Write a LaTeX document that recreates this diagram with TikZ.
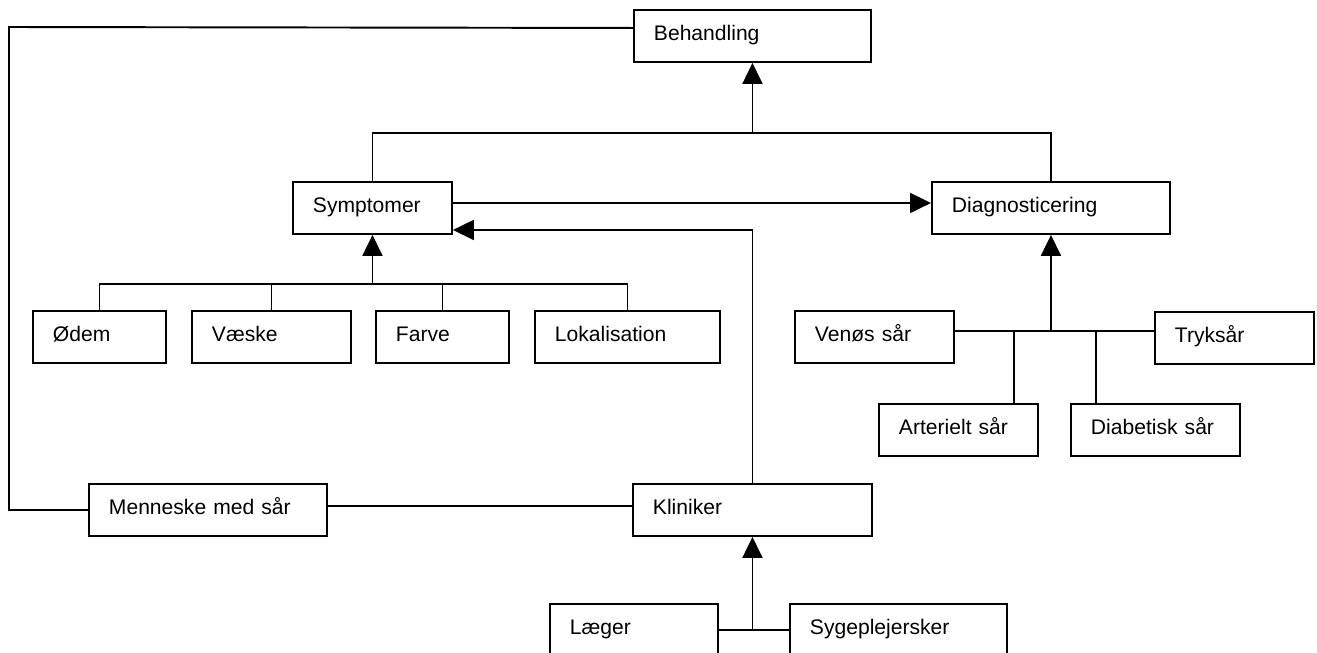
\documentclass[tikz,border=0pt]{standalone}
\usepackage{fontspec}
\setmainfont{Liberation Sans}
\usetikzlibrary{arrows.meta}

\tikzset{
  boks/.style={draw, line width=1.1pt, anchor=north west, align=left,
    inner xsep=0.4cm, inner ysep=0pt, text height=0.62cm, text depth=0.42cm,
    font=\fontsize{12}{14}\selectfont},
  linje/.style={line width=1.1pt},
  pil/.style={line width=1.1pt, -{Triangle[length=0.42cm,width=0.4cm]}}
}

\begin{document}
\begin{tikzpicture}
\useasboundingbox (0,0) rectangle (26.34,-13.04);
\clip (0,0) rectangle (26.34,-13.04);

\node[boks, text width=3.94cm] (Behandling) at (12.66,-0.18) {Behandling};
\node[boks, text width=2.38cm] (Symptomer) at (5.84,-3.62) {Symptomer};
\node[boks, text width=3.96cm] (Diagnose) at (18.62,-3.62) {Diagnosticering};

\node[boks, text width=1.86cm] (Odem) at (0.64,-6.2) {Ødem};
\node[boks, text width=2.38cm] (Vaeske) at (3.82,-6.2) {Væske};
\node[boks, text width=1.86cm] (Farve) at (7.5,-6.2) {Farve};
\node[boks, text width=2.9cm] (Lokal) at (10.68,-6.2) {Lokalisation};

\node[boks, text width=2.38cm] (Venos) at (15.88,-6.2) {Venøs sår};
\node[boks, text width=2.38cm] (Tryk) at (23.08,-6.22) {Tryksår};
\node[boks, text width=2.38cm] (Arteriel) at (17.56,-8.06) {Arterielt sår};
\node[boks, text width=2.58cm] (Diabetisk) at (21.4,-8.06) {Diabetisk sår};

\node[boks, text width=3.96cm] (Menneske) at (1.76,-9.66) {Menneske med sår};
\node[boks, text width=3.98cm] (Kliniker) at (12.64,-9.66) {Kliniker};
\node[boks, text width=2.56cm] (Laeger) at (10.98,-12.06) {Læger};
\node[boks, text width=3.54cm] (Syge) at (15.78,-12.06) {Sygeplejersker};

\coordinate (venstre) at (0.18,-0.54);
\coordinate (topbar) at (15.06,-2.66);
\coordinate (symbar) at (7.42,-5.68);
\coordinate (diagbar) at (20.98,-6.62);

% Behandling
\draw[linje] (Menneske.west) -| (venstre) -- ([yshift=0.16cm]Behandling.west);
\draw[linje] (Symptomer.north) |- (topbar) -| (Diagnose.north);
\draw[pil] (Behandling.south |- topbar) -- (Behandling.south);

\draw[pil] ([yshift=0.1cm]Symptomer.east) -- ([yshift=0.1cm]Diagnose.west);
\draw[pil] (Kliniker.north) |- ([yshift=-0.44cm]Symptomer.east);

% symptomer
\draw[linje] (Odem.north) |- (symbar) -| (Lokal.north);
\draw[linje] (Vaeske.north) -- (Vaeske.north |- symbar);
\draw[linje] (Farve.north) -- (Farve.north |- symbar);
\draw[pil] (Symptomer.south |- symbar) -- (Symptomer.south);

% saartyper
\draw[linje] (Venos.east |- diagbar) -- (Tryk.west |- diagbar);
\draw[linje] ([xshift=1.11cm]Arteriel.north) -- ([xshift=1.11cm]Arteriel.north |- diagbar);
\draw[linje] ([xshift=-1.19cm]Diabetisk.north) -- ([xshift=-1.19cm]Diabetisk.north |- diagbar);
\draw[pil] (Diagnose.south |- diagbar) -- (Diagnose.south);

% kliniker
\draw[linje] ([yshift=0.08cm]Menneske.east) -- ([yshift=0.08cm]Kliniker.west);
\draw[linje] (Laeger.east) -- (Syge.west);
\draw[pil] (Kliniker.south |- Laeger.east) -- (Kliniker.south);

\end{tikzpicture}
\end{document}
